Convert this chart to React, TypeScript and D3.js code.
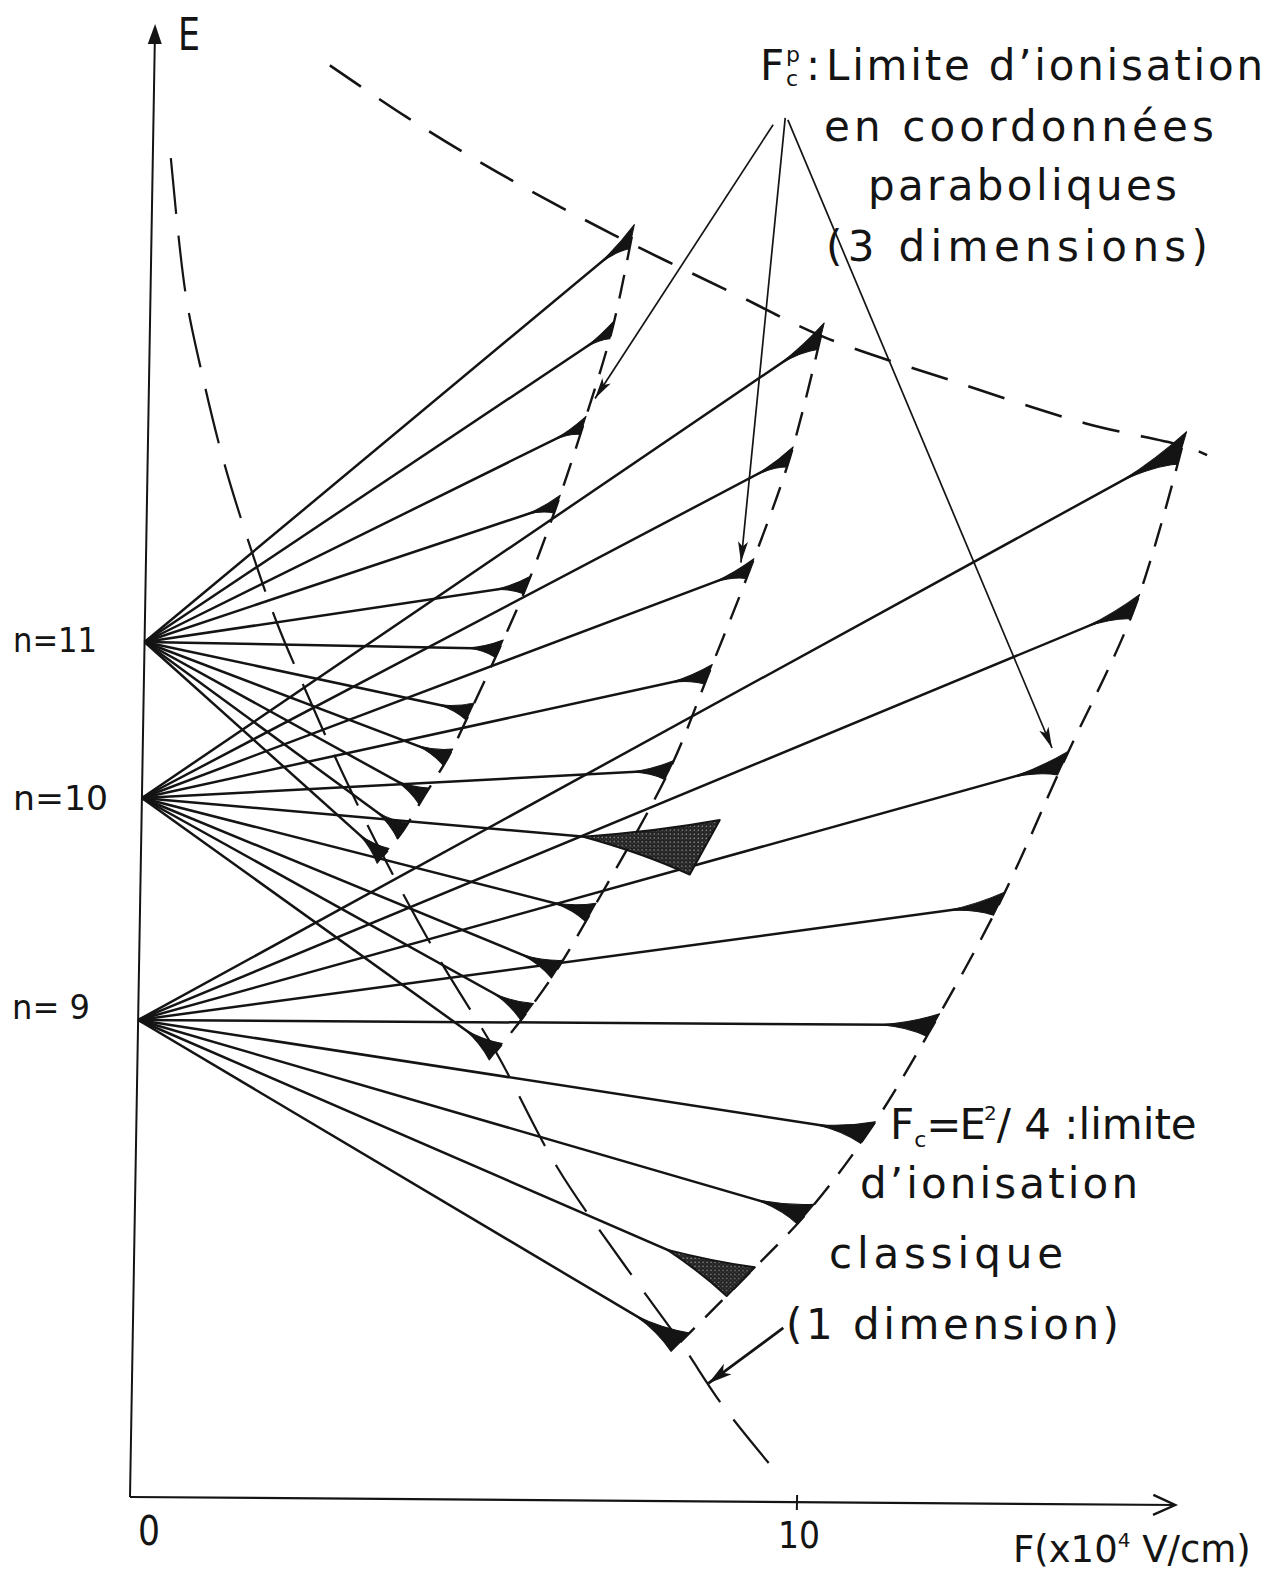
import React from 'react';
import * as d3 from 'd3';

// ---- data (F in 10^4 V/cm, E in arbitrary energy units) ----
const levelN = [11, 10, 9];
const levelE = [85.5, 69.9, 47.7];

// ionisation end-points of the Stark components of each manifold
const n11F = [7.2, 6.93, 6.52, 6.15, 5.72, 5.32, 4.9, 4.58, 4.23, 3.92, 3.63];
const n11E = [126.4, 117.1, 107.5, 99.6, 91.5, 85.1, 78.8, 74.2, 70.3, 66.8, 64.3];
const n10F = [10.06, 9.63, 9.06, 8.46, 7.9, 8.45, 6.76, 6.27, 5.83, 5.37];
const n10E = [116.6, 104.5, 93.3, 82.7, 73.1, 65.4, 58.8, 53.1, 48.8, 44.8];
const n9F = [15.5, 14.84, 13.8, 12.88, 11.92, 10.97, 10.06, 9.1, 8.21];
const n9E = [105.7, 89.8, 74.1, 60.0, 47.8, 37.0, 28.8, 22.0, 15.9];

// broad (stippled) components and components off the dashed limit curve
const broadN10 = [5];
const broadN9 = [7];
const offCurveN10 = [5];

// classical limit F_c = E^2/4 (1 dimension)
const classicalF = [0.27, 0.53, 0.81, 1.15, 1.57, 1.98, 2.48, 2.99, 3.63, 4.51, 5.37, 6.32, 7.35, 8.21, 8.85, 9.59];
const classicalE = [133.9, 120.2, 111.9, 103.4, 94.9, 87.5, 80.0, 72.7, 64.3, 53.9, 44.8, 33.3, 23.6, 15.9, 9.7, 3.7];

// parabolic-coordinate limit F_c^p (3 dimensions)
const parabolicF = [2.63, 3.79, 5.18, 6.92, 8.87, 10.11, 12.01, 14.04, 15.58, 15.88];
const parabolicE = [143.3, 138.2, 132.7, 126.6, 120.4, 116.5, 112.3, 108.1, 105.8, 105.0];

// leader arrows from the labels
const arrowFromF = [9.29, 9.47, 9.51, 9.75];
const arrowFromE = [137.7, 138.4, 138.2, 17.4];
const arrowToF = [6.69, 8.92, 13.63, 8.64];
const arrowToE = [110.2, 93.9, 75.6, 11.8];

const xTicks = [10];
const xTickLabels = ['0', '10'];
const xAxisMax = 15.67;
const yAxisMax = 147.3;

const INK = '#141414';
const FONT = "'DejaVu Sans', 'Liberation Sans', sans-serif";

type P = [number, number];

function wedgePath(o: P, p: P, t: P, L: number, w: number, bend: number) {
  const dx = p[0] - o[0];
  const dy = p[1] - o[1];
  const len = Math.hypot(dx, dy);
  const ux = dx / len;
  const uy = dy / len;
  const a: P = [p[0] - L * ux, p[1] - L * uy];
  const b1: P = [p[0] + (t[0] * w) / 2, p[1] + (t[1] * w) / 2];
  const b2: P = [p[0] - (t[0] * w) / 2, p[1] - (t[1] * w) / 2];
  const m: P = [p[0] - 0.45 * L * ux, p[1] - 0.45 * L * uy];
  const c1: P = [m[0] + t[0] * w * bend, m[1] + t[1] * w * bend];
  const c2: P = [m[0] - t[0] * w * bend, m[1] - t[1] * w * bend];
  return `M${a[0]},${a[1]} Q${c1[0]},${c1[1]} ${b1[0]},${b1[1]} L${b2[0]},${b2[1]} Q${c2[0]},${c2[1]} ${a[0]},${a[1]} Z`;
}

export default function App() {
  const x = d3.scaleLinear().domain([0, 10]).range([0, 667]);
  const y = d3.scaleLinear().domain([0, 100]).range([0, -1000]);
  const frame = 'matrix(1,0.00766,-0.01704,1,130,1497)';

  const manifolds = [
    { n: levelN[0], E0: levelE[0], F: n11F, E: n11E, broad: [] as number[], off: [] as number[], L: 32, w: 19 },
    { n: levelN[1], E0: levelE[1], F: n10F, E: n10E, broad: broadN10, off: offCurveN10, L: 38, w: 21 },
    { n: levelN[2], E0: levelE[2], F: n9F, E: n9E, broad: broadN9, off: [] as number[], L: 52, w: 26 },
  ];

  const curveGen = d3
    .line<P>()
    .x((d) => d[0])
    .y((d) => d[1])
    .curve(d3.curveCatmullRom.alpha(0.5));

  const classicalPts: P[] = classicalF.map((f, i) => [x(f), y(classicalE[i])]);
  const parabolicPts: P[] = parabolicF.map((f, i) => [x(f), y(parabolicE[i])]);

  const fanEls: React.ReactNode[] = [];
  const wedgeEls: React.ReactNode[] = [];
  const curveEls: React.ReactNode[] = [];

  manifolds.forEach((m) => {
    const o: P = [x(0), y(m.E0)];
    const pts: P[] = m.F.map((f, i) => [x(f), y(m.E[i])]);
    const onIdx = pts.map((_, i) => i).filter((i) => !m.off.includes(i));
    const curvePts = onIdx.map((i) => pts[i]);
    curveEls.push(
      <path
        key={`c${m.n}`}
        d={curveGen(curvePts) || ''}
        fill="none"
        stroke={INK}
        strokeWidth={2.4}
        strokeDasharray="24 15"
      />
    );
    pts.forEach((p, i) => {
      fanEls.push(
        <line key={`f${m.n}-${i}`} x1={o[0]} y1={o[1]} x2={p[0]} y2={p[1]} stroke={INK} strokeWidth={2.5} />
      );
      let prev: P;
      let next: P;
      if (m.off.includes(i)) {
        prev = pts[Math.max(0, i - 1)];
        next = pts[Math.min(pts.length - 1, i + 1)];
      } else {
        const k = onIdx.indexOf(i);
        prev = pts[onIdx[Math.max(0, k - 1)]];
        next = pts[onIdx[Math.min(onIdx.length - 1, k + 1)]];
      }
      const tx = next[0] - prev[0];
      const ty = next[1] - prev[1];
      const tl = Math.hypot(tx, ty) || 1;
      const t: P = [tx / tl, ty / tl];
      const broad = m.broad.includes(i);
      let L = m.L;
      let w = m.w;
      if (i === 0) {
        L *= 1.3;
        w *= 1.3;
      }
      if (broad) {
        L = m.n === 10 ? 122 : 80;
        w = m.n === 10 ? 62 : 40;
      }
      wedgeEls.push(
        <path
          key={`w${m.n}-${i}`}
          d={wedgePath(o, p, t, L, w, broad ? 0.2 : 0.1)}
          fill={broad ? 'url(#stipple)' : INK}
          stroke={INK}
          strokeWidth={broad ? 2 : 1}
          strokeLinejoin="round"
        />
      );
    });
  });

  const arrows = arrowFromF.map((f, i) => ({
    x1: x(f),
    y1: y(arrowFromE[i]),
    x2: x(arrowToF[i]),
    y2: y(arrowToE[i]),
    big: i === 3,
  }));

  const X0 = x(0);
  const Y0 = y(0);
  const Xmax = x(xAxisMax);
  const Ytop = y(yAxisMax);

  const txt = (props: any, s: string, key: string) => (
    <text key={key} fontFamily={FONT} fill={INK} {...props}>
      {s}
    </text>
  );

  return (
    <svg
      width={1280}
      height={1572}
      viewBox="0 0 1280 1572"
      style={{ position: 'absolute', left: 0, top: 0, background: '#fff' }}
    >
      <defs>
        <pattern id="stipple" width="4" height="4" patternUnits="userSpaceOnUse">
          <rect width="4" height="4" fill="#222" />
          <circle cx="1" cy="1" r="0.8" fill="#8a8a8a" />
          <circle cx="3" cy="2.6" r="0.6" fill="#555" />
        </pattern>
        <marker id="ah" markerUnits="userSpaceOnUse" markerWidth="24" markerHeight="12" refX="21" refY="6" orient="auto">
          <path d="M0,1 L21,6 L0,11 L5,6 Z" fill={INK} />
        </marker>
        <marker id="ah2" markerUnits="userSpaceOnUse" markerWidth="26" markerHeight="16" refX="24" refY="8" orient="auto">
          <path d="M0,1.5 L24,8 L0,14.5 L6,8 Z" fill={INK} />
        </marker>
      </defs>
      <rect x={0} y={0} width={1280} height={1572} fill="#fff" />

      <g transform={frame}>
        {/* axes */}
        <line x1={X0} y1={Y0} x2={X0} y2={Ytop + 14} stroke={INK} strokeWidth={2} />
        <path d={`M${X0},${Ytop} L${X0 - 7},${Ytop + 20} L${X0 + 7},${Ytop + 20} Z`} fill={INK} />
        <line x1={X0} y1={Y0} x2={Xmax} y2={Y0} stroke={INK} strokeWidth={2.2} />
        <path
          d={`M${Xmax - 22},${Y0 - 10} L${Xmax},${Y0} L${Xmax - 22},${Y0 + 10}`}
          fill="none"
          stroke={INK}
          strokeWidth={2.4}
        />
        {xTicks.map((t) => (
          <line key={`t${t}`} x1={x(t)} y1={Y0 - 7} x2={x(t)} y2={Y0 + 8} stroke={INK} strokeWidth={2} />
        ))}

        {/* limit curves */}
        <path
          d={curveGen(classicalPts) || ''}
          fill="none"
          stroke={INK}
          strokeWidth={2.2}
          strokeDasharray="56 22"
        />
        <path
          d={curveGen(parabolicPts) || ''}
          fill="none"
          stroke={INK}
          strokeWidth={2.6}
          strokeDasharray="38 22"
        />
        {curveEls}
        {fanEls}
        {wedgeEls}

        {/* leader arrows */}
        {arrows.map((a, i) => (
          <line
            key={`a${i}`}
            x1={a.x1}
            y1={a.y1}
            x2={a.x2}
            y2={a.y2}
            stroke={INK}
            strokeWidth={a.big ? 2.8 : 1.7}
            markerEnd={a.big ? 'url(#ah2)' : 'url(#ah)'}
          />
        ))}
      </g>

      {/* axis labels */}
      {txt({ x: 178, y: 50, fontSize: 44, textLength: 22, lengthAdjust: 'spacingAndGlyphs' }, 'E', 'E')}
      {txt({ x: 13, y: 652, fontSize: 34, textLength: 84, lengthAdjust: 'spacingAndGlyphs' }, `n=${levelN[0]}`, 'l11')}
      {txt({ x: 13, y: 810, fontSize: 34, textLength: 95, lengthAdjust: 'spacingAndGlyphs' }, `n=${levelN[1]}`, 'l10')}
      {txt({ x: 12, y: 1019, fontSize: 34, textLength: 78, lengthAdjust: 'spacingAndGlyphs' }, `n= ${levelN[2]}`, 'l9')}
      {txt({ x: 138, y: 1545, fontSize: 40, textLength: 22, lengthAdjust: 'spacingAndGlyphs' }, xTickLabels[0], 'x0')}
      {txt({ x: 778, y: 1548, fontSize: 38, textLength: 42, lengthAdjust: 'spacingAndGlyphs' }, xTickLabels[1], 'x10')}
      <text x={1013} y={1562} fontFamily={FONT} fill={INK} fontSize={37}>
        F(x10
        <tspan dy={-15} fontSize={20}>
          4
        </tspan>
        <tspan dy={15}> V/cm)</tspan>
      </text>

      {/* parabolic limit label */}
      {txt({ x: 760, y: 80, fontSize: 42 }, 'F', 'pF')}
      {txt({ x: 786, y: 62, fontSize: 22 }, 'p', 'pp')}
      {txt({ x: 786, y: 86, fontSize: 22 }, 'c', 'pc')}
      {txt({ x: 806, y: 80, fontSize: 42 }, ':', 'pcolon')}
      {txt({ x: 826, y: 80, fontSize: 42, textLength: 437, lengthAdjust: 'spacing' }, "Limite d\u2019ionisation", 'p1')}
      {txt({ x: 824, y: 141, fontSize: 42, textLength: 390, lengthAdjust: 'spacing' }, 'en coordonnées', 'p2')}
      {txt({ x: 868, y: 200, fontSize: 42, textLength: 309, lengthAdjust: 'spacing' }, 'paraboliques', 'p3')}
      {txt({ x: 826, y: 261, fontSize: 42, textLength: 382, lengthAdjust: 'spacing' }, '(3 dimensions)', 'p4')}

      {/* classical limit label */}
      <text x={890} y={1139} fontFamily={FONT} fill={INK} fontSize={42}>
        F
        <tspan dy={8} fontSize={22}>
          c
        </tspan>
        <tspan dy={-8} letterSpacing={-2}>
          =E
        </tspan>
        <tspan dy={-19} fontSize={20}>
          2
        </tspan>
        <tspan dy={19}>/ 4 :limite</tspan>
      </text>
      {txt({ x: 860, y: 1198, fontSize: 42, textLength: 278, lengthAdjust: 'spacing' }, "d\u2019ionisation", 'c2l')}
      {txt({ x: 829, y: 1268, fontSize: 42, textLength: 234, lengthAdjust: 'spacing' }, 'classique', 'c3')}
      {txt({ x: 786, y: 1339, fontSize: 42, textLength: 333, lengthAdjust: 'spacing' }, '(1 dimension)', 'c4')}
    </svg>
  );
}
